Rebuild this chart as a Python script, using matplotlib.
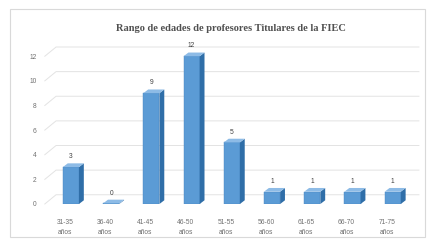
import matplotlib.pyplot as plt
from matplotlib.patches import Polygon, Rectangle
import numpy as np

# data
rangos = ['31-35\naños', '36-40\naños', '41-45\naños', '46-50\naños', '51-55\naños',
          '56-60\naños', '61-65\naños', '66-70\naños', '71-75\naños']
profesores = [3, 0, 9, 12, 5, 1, 1, 1, 1]
y_ticks = [0, 2, 4, 6, 8, 10, 12]

W, H = 435, 244
fig = plt.figure(figsize=(W / 100, H / 100), dpi=100)
fig.patch.set_facecolor('white')

# light border around the whole chart
fig.add_artist(Rectangle((0.023, 0.03), 0.955, 0.935, transform=fig.transFigure,
                         fill=False, edgecolor='#d9d9d9', linewidth=0.8))

ax = fig.add_axes([0.103, 0.164, 0.86, 0.656])
ax.set_xlim(-0.5, 8.8)
ax.set_ylim(0, 13)
for s in ax.spines.values():
    s.set_visible(False)

# back wall gridlines with a little perspective
dx, dy = 0.28, 0.75
for t in y_ticks:
    ax.plot([-0.5, -0.5 + dx, 8.8], [t, t + dy, t + dy], color='#e3e3e3', lw=0.7,
            clip_on=False, zorder=0)

x = np.arange(len(rangos))
shift = 0.15  # bars sit a bit right of their labels (3D perspective)
bw = 0.4
depth_x, depth_y = 0.12, 0.3
front = '#5b9bd5'
side = '#2f6ea8'
top = '#8dbbe6'
for xi, v in zip(x + shift, profesores):
    h = max(v, 0.05)
    ax.bar(xi, h, width=bw, color=front, edgecolor='#4a86c0', linewidth=0.3, zorder=3)
    x0, x1 = xi - bw / 2, xi + bw / 2
    ax.add_patch(Polygon([(x1, 0), (x1 + depth_x, depth_y), (x1 + depth_x, h + depth_y), (x1, h)],
                         closed=True, facecolor=side, edgecolor='none', zorder=3))
    ax.add_patch(Polygon([(x0, h), (x1, h), (x1 + depth_x, h + depth_y), (x0 + depth_x, h + depth_y)],
                         closed=True, facecolor=top, edgecolor='none', zorder=3))
    ax.text(xi, h + depth_y + 0.25, str(v), ha='center', va='bottom', fontsize=4.8,
            color='#404040', family='Liberation Sans')

ax.set_xticks(x)
ax.set_xticklabels(rangos, fontsize=4.8, color='#707070', family='Liberation Sans',
                   linespacing=1.6)
ax.set_yticks(y_ticks)
ax.set_yticklabels([str(t) for t in y_ticks], fontsize=4.8, color='#707070',
                   family='Liberation Sans')
ax.tick_params(length=0, pad=6)
ax.tick_params(axis='x', pad=11)

fig.text(0.53, 0.885, 'Rango de edades de profesores Titulares de la FIEC', ha='center',
         va='center', fontsize=7.5, color='#505050', family='Liberation Serif',
         fontweight='bold')

fig.savefig('out.png', dpi=100)
